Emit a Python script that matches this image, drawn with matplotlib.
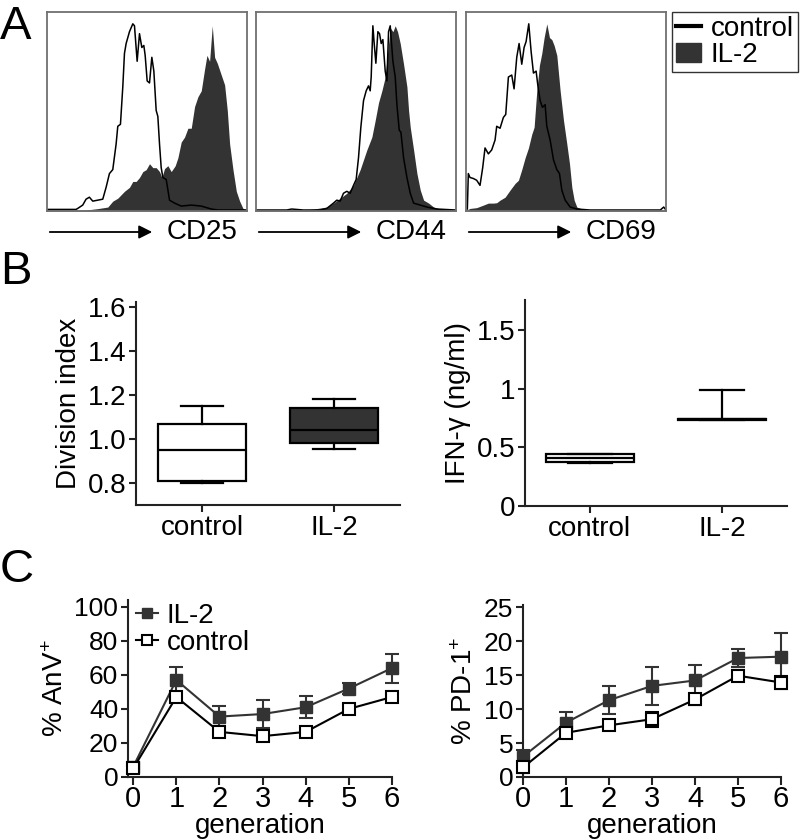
import matplotlib
matplotlib.use("Agg")
from matplotlib import pyplot as plt
from matplotlib.lines import Line2D
from matplotlib.patches import Patch

plt.rcParams['font.family'] = ['Liberation Sans', 'DejaVu Sans']
plt.rcParams['mathtext.fontset'] = 'custom'
plt.rcParams['mathtext.rm'] = 'Liberation Sans'
plt.rcParams['mathtext.default'] = 'regular'

W, H = 807, 840
DARK = '#333333'

# ---- panel A: flow histograms (channel, relative height 0-100) ----
cd25_ctrl_x = [8, 95, 100, 115, 125, 135, 145, 160, 175, 185, 195, 205, 215, 220, 228, 235, 240, 245,
               255, 265, 270, 278, 285, 292, 298, 302, 308, 315, 322, 328, 335, 340, 345, 350, 355,
               365, 375, 390, 410, 440, 470, 500, 520, 607]
cd25_ctrl_y = [0.8, 0.8, 1.3, 3, 6, 7, 5, 5.5, 6, 12, 19, 21, 34, 43, 44, 63, 80, 85,
               91, 95, 94, 76, 90, 83, 84, 79, 66, 65, 78, 71, 51, 48, 34, 22, 17,
               16, 5.5, 4, 2.5, 3, 2.5, 1, 0.5, 0.5]
cd25_il2_x = [8, 120, 140, 160, 190, 205, 220, 240, 255, 265, 275, 285, 295, 305, 315, 325, 335, 345,
              352, 360, 370, 380, 392, 400, 410, 420, 430, 440, 450, 460, 470, 480, 487, 495, 503,
              510, 518, 530, 540, 548, 555, 565, 575, 585, 595, 607]
cd25_il2_y = [0.5, 0.5, 0.8, 1.2, 2, 5, 6.5, 10, 12, 15, 15, 17, 20, 21, 24, 22, 22, 20,
              17, 21.5, 23, 20, 23, 27, 35, 37.5, 42, 42, 53, 58, 61, 72, 79, 76, 94,
              78, 75, 69, 64, 51, 34, 21, 10, 5, 1.3, 0.5]

cd44_ctrl_x = [8, 100, 115, 150, 200, 220, 240, 250, 260, 270, 280, 290, 300, 308, 315, 322, 330, 338,
               345, 350, 353, 358, 362, 367, 373, 378, 383, 388, 395, 400, 405, 410, 418, 425, 430,
               437, 442, 450, 460, 470, 480, 500, 520, 550, 607]
cd44_ctrl_y = [0.5, 0.5, 1, 0.5, 0.5, 1.3, 4, 5.5, 5, 9, 10, 9, 13, 16, 27, 42.5, 56, 61,
               63.5, 61, 68, 94, 85, 75, 91, 90, 85, 87, 71, 66, 91, 94, 76, 68, 54,
               41, 40, 27, 17, 9, 4, 3, 2, 1, 0.5]
cd44_il2_x = [8, 150, 180, 220, 240, 260, 280, 300, 320, 340, 355, 365, 375, 385, 395, 402, 410, 418,
              425, 432, 440, 450, 460, 465, 470, 480, 490, 500, 510, 525, 540, 560, 607]
cd44_il2_y = [0.5, 0.5, 1, 2, 4, 6.5, 9, 13, 21, 31, 37.5, 46, 55, 61, 68, 80, 93, 91,
              94, 91, 85, 74.5, 63, 51, 42.5, 31, 19, 10.6, 5.5, 4, 2, 1, 0.5]

cd69_ctrl_x = [12, 15, 20, 30, 40, 50, 58, 65, 75, 85, 95, 100, 110, 120, 127, 135, 145, 152, 160,
               167, 175, 182, 188, 196, 203, 210, 218, 223, 230, 237, 245, 250, 260, 270, 280, 288,
               295, 305, 320, 340, 380, 590, 600, 607]
cd69_ctrl_y = [1, 19, 17, 16.5, 15.6, 13, 22, 32, 29, 31, 36, 43, 42, 47.5, 49, 68, 69, 62, 78,
               85, 74.5, 83, 86, 95, 81, 70, 71, 64, 56, 52.6, 54, 43, 36, 26, 21, 19,
               10.6, 5.5, 2, 1, 0.5, 0.5, 2, 0.5]
cd69_il2_x = [10, 20, 40, 60, 75, 90, 100, 110, 125, 140, 155, 165, 175, 185, 195, 205, 212, 220,
              228, 235, 242, 250, 258, 265, 272, 280, 290, 300, 310, 318, 325, 332, 340, 355, 370, 607]
cd69_il2_y = [0.5, 1.3, 1.7, 3, 4, 4, 4.2, 5.5, 7, 10.6, 14, 15.6, 21, 27, 32, 39, 42.5, 61,
              74, 80, 88, 95, 88, 87, 84, 79, 61, 46, 34, 24, 12, 5.5, 2, 1, 0.5, 0.5]

markers_a = ['CD25', 'CD44', 'CD69']

# ---- panel B: box plots ----
groups = ['control', 'IL-2']
div_q1 = [0.81, 0.98]
div_med = [0.95, 1.04]
div_q3 = [1.07, 1.14]
div_lo = [0.80, 0.955]
div_hi = [1.15, 1.18]

ifn_q1 = [0.375, 0.735]
ifn_med = [0.405, 0.74]
ifn_q3 = [0.44, 0.745]
ifn_lo = [0.37, 0.73]
ifn_hi = [0.445, 0.99]

# ---- panel C: per generation ----
generation = [0, 1, 2, 3, 4, 5, 6]
anv_il2 = [6, 57, 35.5, 37, 41, 52, 64]
anv_il2_err = [2, 7.5, 6.5, 8, 6.5, 3.5, 8.5]
anv_ctrl = [5, 47, 26.5, 24, 26.5, 40, 47]
anv_ctrl_err = [1.5, 1.5, 1.5, 1.5, 1.5, 1.5, 2]
pd1_il2 = [3.0, 8.0, 11.3, 13.4, 14.2, 17.5, 17.7]
pd1_il2_err = [0.9, 1.6, 2.1, 2.8, 2.3, 1.3, 3.5]
pd1_ctrl = [1.4, 6.5, 7.6, 8.5, 11.4, 14.9, 13.9]
pd1_ctrl_err = [0.8, 0.5, 0.7, 1.1, 0.8, 0.8, 1.0]


def px(l, t, r, b):
    return [l / W, 1 - b / H, (r - l) / W, (b - t) / H]


fig = plt.figure(figsize=(W / 100, H / 100), dpi=100)

# overlay for letters and arrows
ov = fig.add_axes([0, 0, 1, 1])
ov.set_xlim(0, W)
ov.set_ylim(H, 0)
ov.axis('off')

hists = [(cd25_ctrl_x, cd25_ctrl_y, cd25_il2_x, cd25_il2_y),
         (cd44_ctrl_x, cd44_ctrl_y, cd44_il2_x, cd44_il2_y),
         (cd69_ctrl_x, cd69_ctrl_y, cd69_il2_x, cd69_il2_y)]
lefts = [47, 256, 466]
for i, (cx, cy, ix, iy) in enumerate(hists):
    l = lefts[i]
    ax = fig.add_axes(px(l, 12, l + 200, 211))
    ax.fill_between(ix, iy, color=DARK, lw=0)
    ax.plot(cx, cy, color='black', lw=1.1)
    ax.set_xlim(8, 607)
    ax.set_ylim(0, 101)
    ax.set_xticks([])
    ax.set_yticks([])
    for s in ax.spines.values():
        s.set_color('#707070')
        s.set_linewidth(1.3)
    ov.annotate('', xy=(l + 108, 232), xytext=(l, 232),
                arrowprops=dict(arrowstyle='-|>', color='black', lw=1.3, mutation_scale=20))
    ov.text(l + 120, 232, markers_a[i], fontsize=20, va='center', ha='left')

fig.legend(handles=[Line2D([], [], color='black', lw=3), Patch(color=DARK)],
           labels=['control', 'IL-2'], loc='upper left',
           bbox_to_anchor=(672 / W, 1 - 12 / H), fontsize=20, frameon=True, fancybox=False,
           edgecolor='black', borderpad=0.15, labelspacing=0.0, handlelength=0.9,
           handletextpad=0.35, borderaxespad=0)

ov.text(0, 27, 'A', fontsize=34, va='center', ha='left')
ov.text(0, 272, 'B', fontsize=34, va='center', ha='left')
ov.text(0, 570, 'C', fontsize=34, va='center', ha='left')


def style(ax):
    ax.spines['top'].set_visible(False)
    ax.spines['right'].set_visible(False)
    for s in ['left', 'bottom']:
        ax.spines[s].set_linewidth(1.5)
        ax.spines[s].set_color('#222222')
    ax.tick_params(direction='out', length=5, width=1.5, color='#222222', labelsize=20, pad=2)


def boxes(ax, q1, med, q3, lo, hi, capw):
    stats = []
    for k in range(len(groups)):
        stats.append(dict(q1=q1[k], med=med[k], q3=q3[k], whislo=lo[k], whishi=hi[k], label=groups[k]))
    res = ax.bxp(stats, positions=[1, 2], widths=0.67, patch_artist=True, showfliers=False,
                 capwidths=capw,
                 boxprops=dict(lw=1.6, edgecolor='black'),
                 medianprops=dict(color='black', lw=1.6),
                 whiskerprops=dict(color='black', lw=1.6),
                 capprops=dict(color='black', lw=1.6))
    res['boxes'][0].set_facecolor('white')
    res['boxes'][1].set_facecolor(DARK)


axb1 = fig.add_axes(px(136, 302, 400, 505))
boxes(axb1, div_q1, div_med, div_q3, div_lo, div_hi, 0.32)
axb1.set_xlim(0.5, 2.5)
axb1.set_ylim(0.7, 1.623)
axb1.set_yticks([0.8, 1.0, 1.2, 1.4, 1.6])
axb1.set_yticklabels(['0.8', '1.0', '1.2', '1.4', '1.6'])
axb1.set_ylabel('Division index', fontsize=20)
style(axb1)

axb2 = fig.add_axes(px(525, 300, 787, 506))
boxes(axb2, ifn_q1, ifn_med, ifn_q3, ifn_lo, ifn_hi, 0.33)
axb2.set_xlim(0.51, 2.49)
axb2.set_ylim(0, 1.755)
axb2.set_yticks([0, 0.5, 1, 1.5])
axb2.set_yticklabels(['0', '0.5', '1', '1.5'])
axb2.set_ylabel('IFN-γ (ng/ml)', fontsize=20)
style(axb2)


def lines(ax, il2, il2e, ctrl, ctrle):
    ax.errorbar(generation, il2, yerr=il2e, color=DARK, marker='s', ms=8, mfc=DARK, mec=DARK,
                lw=1.5, capsize=5, elinewidth=1.5, capthick=1.5, clip_on=False, zorder=3)
    ax.errorbar(generation, ctrl, yerr=ctrle, color='black', marker='s', ms=8, mfc='white', mec='black',
                mew=1.5, lw=1.5, capsize=5, elinewidth=1.5, capthick=1.5, clip_on=False, zorder=4)


def style_c(ax):
    style(ax)
    ax.tick_params(axis='y', labelsize=19)
    ax.tick_params(axis='x', labelsize=21, length=6, pad=0)


axc1 = fig.add_axes(px(128, 600, 392, 777))
lines(axc1, anv_il2, anv_il2_err, anv_ctrl, anv_ctrl_err)
axc1.set_xlim(-0.12, 6)
axc1.set_ylim(0, 104)
axc1.set_yticks([0, 20, 40, 60, 80, 100])
axc1.set_xticks(generation)
axc1.set_ylabel('% AnV$^{+}$', fontsize=20)
axc1.set_xlabel('generation', fontsize=20, labelpad=0)
style_c(axc1)
leg_handles = [Line2D([], [], color=DARK, marker='s', ms=7, mfc=DARK, mec=DARK, lw=1.5),
               Line2D([], [], color='black', marker='s', ms=7, mfc='white', mec='black', mew=1.5, lw=1.5)]
axc1.legend(leg_handles, ['IL-2', 'control'], loc='upper left', bbox_to_anchor=(0.03, 0.985),
            frameon=False, fontsize=20, handlelength=0.8, handletextpad=0.3, labelspacing=0.05,
            borderaxespad=0, borderpad=0)

axc2 = fig.add_axes(px(523, 605, 781, 777))
lines(axc2, pd1_il2, pd1_il2_err, pd1_ctrl, pd1_ctrl_err)
axc2.set_xlim(0, 6)
axc2.set_ylim(0, 25.3)
axc2.set_yticks([0, 5, 10, 15, 20, 25])
axc2.set_xticks(generation)
axc2.set_ylabel('% PD-1$^{+}$', fontsize=20)
axc2.set_xlabel('generation', fontsize=20, labelpad=0)
style_c(axc2)

fig.savefig('out.png', dpi=100)
